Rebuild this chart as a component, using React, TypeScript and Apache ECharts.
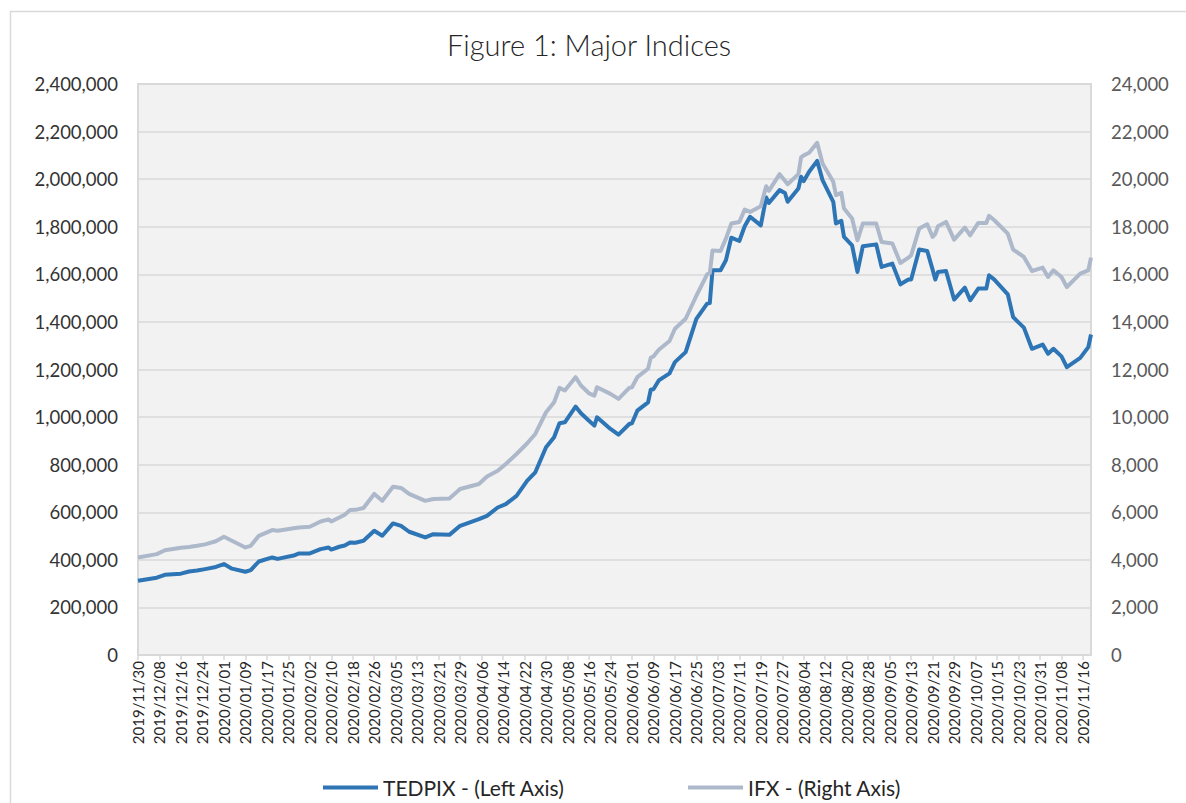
import React, { useEffect, useRef } from "react";
import * as echarts from "echarts";

const dates = [
  "2019/11/30", "2019/12/07", "2019/12/10", "2019/12/16", "2019/12/19", "2019/12/22", "2019/12/25", "2019/12/29",
  "2020/01/01", "2020/01/04", "2020/01/09", "2020/01/11", "2020/01/14", "2020/01/19", "2020/01/21", "2020/01/27",
  "2020/01/29", "2020/02/02", "2020/02/06", "2020/02/09", "2020/02/10", "2020/02/13", "2020/02/15", "2020/02/17",
  "2020/02/19", "2020/02/22", "2020/02/26", "2020/02/29", "2020/03/04", "2020/03/07", "2020/03/10", "2020/03/16",
  "2020/03/19", "2020/03/25", "2020/03/29", "2020/04/05", "2020/04/08", "2020/04/12", "2020/04/15", "2020/04/19",
  "2020/04/23", "2020/04/26", "2020/04/30", "2020/05/03", "2020/05/05", "2020/05/07", "2020/05/11", "2020/05/13",
  "2020/05/16", "2020/05/18", "2020/05/19", "2020/05/24", "2020/05/27", "2020/05/31", "2020/06/01", "2020/06/03",
  "2020/06/07", "2020/06/08", "2020/06/09", "2020/06/11", "2020/06/15", "2020/06/17", "2020/06/21", "2020/06/25",
  "2020/06/29", "2020/06/30", "2020/07/01", "2020/07/04", "2020/07/06", "2020/07/08", "2020/07/11", "2020/07/13",
  "2020/07/15", "2020/07/19", "2020/07/21", "2020/07/22", "2020/07/26", "2020/07/28", "2020/07/29", "2020/08/02",
  "2020/08/03", "2020/08/04", "2020/08/06", "2020/08/09", "2020/08/11", "2020/08/15", "2020/08/16", "2020/08/18",
  "2020/08/19", "2020/08/22", "2020/08/24", "2020/08/26", "2020/08/31", "2020/09/02", "2020/09/06", "2020/09/09",
  "2020/09/12", "2020/09/13", "2020/09/16", "2020/09/19", "2020/09/21", "2020/09/22", "2020/09/23", "2020/09/26",
  "2020/09/29", "2020/10/03", "2020/10/05", "2020/10/08", "2020/10/11", "2020/10/12", "2020/10/14", "2020/10/19",
  "2020/10/21", "2020/10/25", "2020/10/28", "2020/11/01", "2020/11/03", "2020/11/05", "2020/11/08", "2020/11/10",
  "2020/11/15", "2020/11/18", "2020/11/19",
];

const tedpix = [
  312000, 325000, 337000, 342000, 351000, 355000, 361000, 370000,
  382000, 363000, 350000, 357000, 393000, 410000, 404000, 418000,
  427000, 427000, 445000, 452000, 443000, 455000, 460000, 473000,
  472000, 480000, 522000, 501000, 553000, 543000, 518000, 494000,
  508000, 505000, 543000, 571000, 585000, 620000, 634000, 669000,
  733000, 768000, 873000, 915000, 974000, 978000, 1044000, 1016000,
  985000, 964000, 999000, 950000, 926000, 971000, 974000, 1027000,
  1062000, 1115000, 1117000, 1154000, 1184000, 1231000, 1273000, 1413000,
  1477000, 1479000, 1617000, 1617000, 1659000, 1754000, 1740000, 1802000,
  1842000, 1806000, 1923000, 1900000, 1954000, 1942000, 1905000, 1961000,
  2010000, 1992000, 2031000, 2077000, 1996000, 1905000, 1814000, 1825000,
  1757000, 1722000, 1610000, 1718000, 1726000, 1631000, 1645000, 1558000,
  1578000, 1578000, 1704000, 1698000, 1620000, 1578000, 1610000, 1614000,
  1494000, 1544000, 1491000, 1540000, 1540000, 1596000, 1578000, 1516000,
  1420000, 1376000, 1287000, 1305000, 1266000, 1287000, 1255000, 1210000,
  1249000, 1294000, 1347000,
];

const ifx = [
  4100, 4240, 4400, 4510, 4540, 4590, 4650, 4780,
  4970, 4800, 4520, 4590, 5010, 5250, 5220, 5330,
  5360, 5390, 5610, 5700, 5610, 5780, 5895, 6090,
  6100, 6180, 6770, 6480, 7070, 7020, 6770, 6480,
  6555, 6580, 6976, 7187, 7500, 7747, 8028, 8449,
  8900, 9291, 10203, 10624, 11229, 11116, 11677, 11326,
  11000, 10905, 11256, 10976, 10765, 11229, 11256, 11677,
  12030, 12492, 12547, 12829, 13200, 13713, 14134, 15100,
  16000, 16050, 17000, 16983, 17500, 18134, 18202, 18724,
  18623, 18863, 19705, 19508, 20211, 19929, 19789, 20211,
  20913, 21000, 21108, 21529, 20660, 19887, 19326, 19424,
  18766, 18345, 17432, 18134, 18134, 17361, 17293, 16477,
  16700, 16800, 17923, 18105, 17572, 17700, 18021, 18202,
  17461, 17965, 17642, 18160, 18160, 18455, 18274, 17714,
  17040, 16730, 16140, 16281, 15887, 16168, 15887, 15466,
  16028, 16168, 16702,
];

const seriesNames = ["TEDPIX - (Left Axis)", "IFX - (Right Axis)"];
const startDate = "2019/11/30";
const endDate = "2020/11/19";
const title = "Figure 1: Major Indices";

const DAY = 86400000;
const toUTC = (s: string) => {
  const [y, m, d] = s.split("/").map(Number);
  return Date.UTC(y, m - 1, d);
};
const START = toUTC(startDate);
const dayIndex = (s: string) => Math.round((toUTC(s) - START) / DAY);
const pad = (n: number) => (n < 10 ? "0" + n : "" + n);
const fmtDay = (v: number) => {
  const dt = new Date(START + Math.round(v) * DAY);
  return `${dt.getUTCFullYear()}/${pad(dt.getUTCMonth() + 1)}/${pad(dt.getUTCDate())}`;
};
const fmtNum = (v: number) => Math.round(v).toLocaleString("en-US");

const FONT = "Lato";

export default function App() {
  const ref = useRef<HTMLDivElement>(null);
  useEffect(() => {
    document.body.style.margin = "0";
    if (!ref.current) return;
    const chart = echarts.init(ref.current, undefined, { renderer: "svg" });
    const xs = dates.map(dayIndex);
    chart.setOption({
      animation: false,
      backgroundColor: "#ffffff",
      textStyle: { fontFamily: FONT },
      title: {
        text: title,
        left: 442,
        top: 25,
        textStyle: { fontFamily: FONT, fontSize: 29, fontWeight: 300, color: "#262626" },
      },
      graphic: [
        {
          type: "rect",
          z: -10,
          shape: { x: 10.5, y: 11.5, width: 1250, height: 900 },
          style: { fill: "none", stroke: "#d9d9d9", lineWidth: 1.5 },
        },
      ],
      grid: {
        left: 138,
        right: 95,
        top: 84,
        bottom: 148,
        show: true,
        backgroundColor: "#f2f2f2",
        borderColor: "#d9d9d9",
        borderWidth: 2,
      },
      legend: [
        {
          data: [seriesNames[0]],
          left: 318,
          top: 772,
          icon: "rect",
          itemWidth: 55,
          itemHeight: 4,
          textStyle: { fontFamily: FONT, fontSize: 21, color: "#262626" },
        },
        {
          data: [seriesNames[1]],
          left: 683,
          top: 772,
          icon: "rect",
          itemWidth: 55,
          itemHeight: 4,
          textStyle: { fontFamily: FONT, fontSize: 21, color: "#262626" },
        },
      ],
      xAxis: {
        type: "value",
        min: 0,
        max: dayIndex(endDate),
        interval: 8,
        axisLine: { show: true, lineStyle: { color: "#d9d9d9", width: 2 } },
        axisTick: { show: true, length: 5, lineStyle: { color: "#d9d9d9", width: 1.5 } },
        splitLine: { show: false },
        axisLabel: {
          rotate: 90,
          margin: 6,
          fontSize: 15,
          fontFamily: FONT,
          color: "#262626",
          showMaxLabel: false,
          formatter: (v: number) => fmtDay(v),
        },
      },
      yAxis: [
        {
          type: "value",
          min: 0,
          max: 2400000,
          interval: 200000,
          axisLine: { show: false },
          axisTick: { show: false },
          splitLine: { show: true, lineStyle: { color: "#d9d9d9", width: 1.5 } },
          axisLabel: { margin: 20, fontSize: 18.5, fontFamily: FONT, color: "#333333", formatter: fmtNum },
        },
        {
          type: "value",
          min: 0,
          max: 24000,
          interval: 2000,
          position: "right",
          axisLine: { show: false },
          axisTick: { show: false },
          splitLine: { show: false },
          axisLabel: { margin: 20, fontSize: 18.5, fontFamily: FONT, color: "#595959", formatter: fmtNum },
        },
      ],
      series: [
        {
          name: seriesNames[0],
          type: "line",
          yAxisIndex: 0,
          showSymbol: false,
          data: xs.map((x, i) => [x, tedpix[i]]),
          itemStyle: { color: "#2e75b6" },
          lineStyle: { color: "#2e75b6", width: 4, join: "round" },
        },
        {
          name: seriesNames[1],
          type: "line",
          yAxisIndex: 1,
          showSymbol: false,
          data: xs.map((x, i) => [x, ifx[i]]),
          itemStyle: { color: "#adb9ca" },
          lineStyle: { color: "#adb9ca", width: 4, join: "round" },
        },
      ],
    });
    return () => chart.dispose();
  }, []);
  return <div ref={ref} style={{ width: 1186, height: 803 }} />;
}
